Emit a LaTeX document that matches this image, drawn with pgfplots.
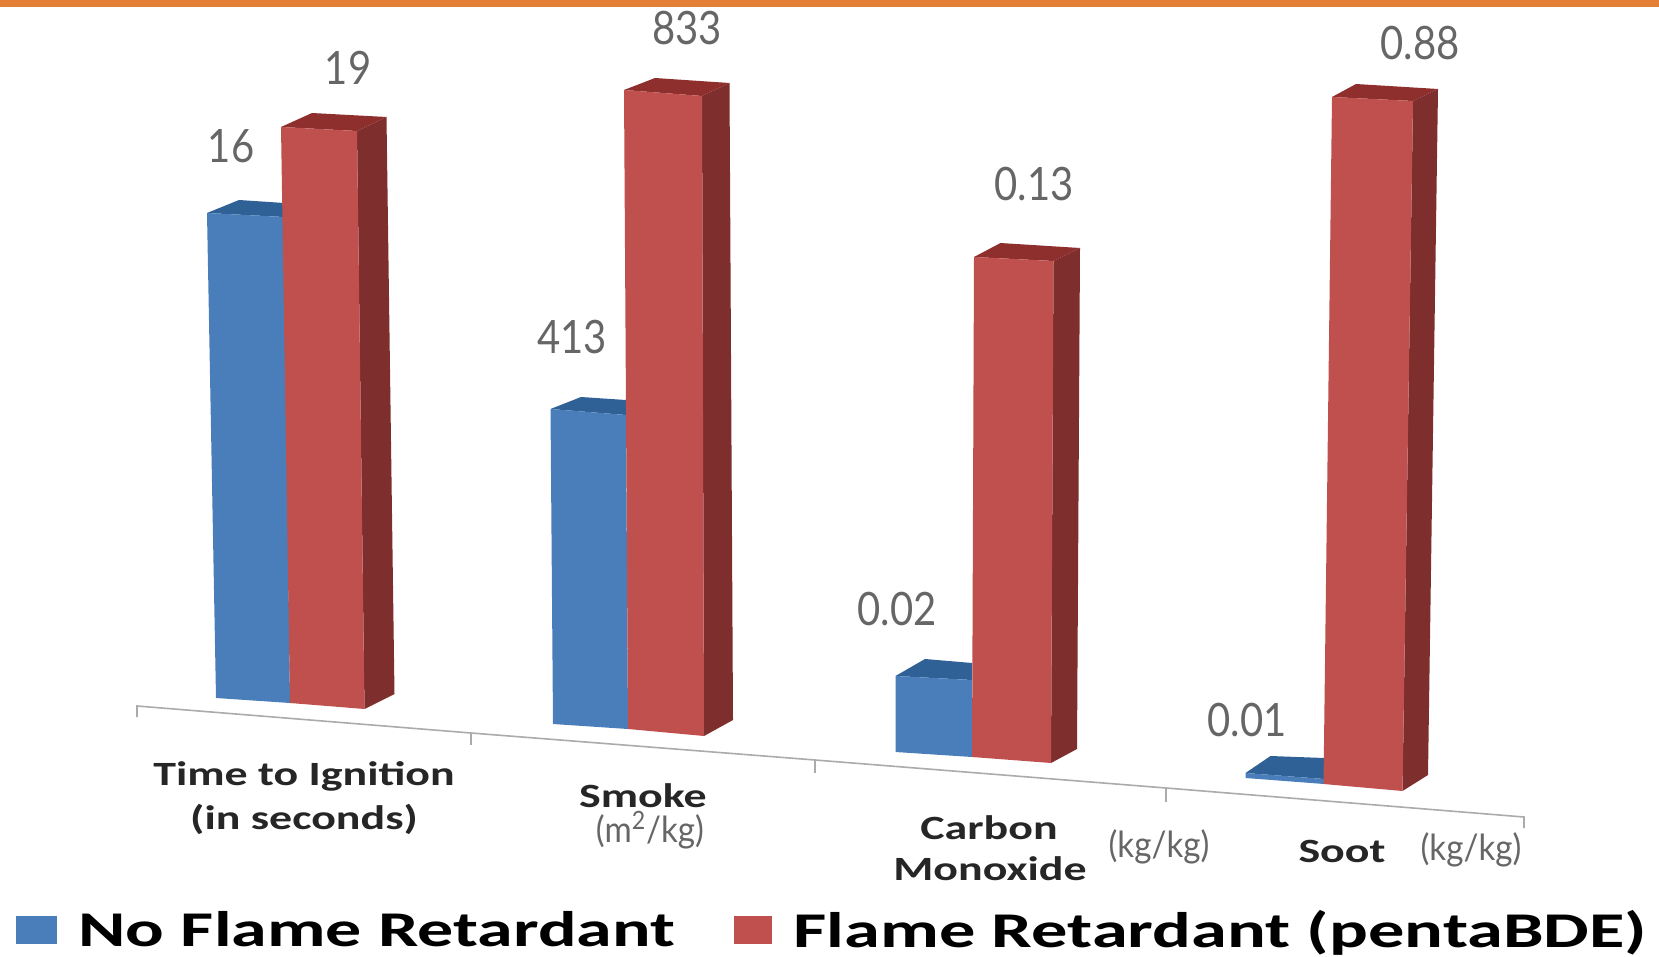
\documentclass[border=0pt]{standalone}
\usepackage{pgfplots}
\usepackage{pgfplotstable}
\usepackage{graphicx}
\usepackage{fontspec}
\pgfplotsset{compat=1.18}
\setmainfont{Carlito}
\newfontfamily\gill{Lato}
\definecolor{band}{HTML}{E38035}
\definecolor{bluef}{HTML}{4A7EBB}
\definecolor{bluet}{HTML}{2F6096}
\definecolor{redf}{HTML}{C0504D}
\definecolor{redt}{HTML}{8E2F2E}
\definecolor{reds}{HTML}{7E2E2D}
\definecolor{axisg}{HTML}{ABABAB}
\definecolor{valg}{HTML}{666666}
% data labels, placed at their positions on the picture (x, y in pixels from top left)
\pgfplotstableread{
x y lab
231 146 16
348 68 19
572 337 413
687 28 833
897 609 0.02
1034 184 0.13
1247 720 0.01
1420 43 0.88
}\labels
\newcommand{\vlab}[1]{\scalebox{.87}[1]{\fontsize{23}{23}\selectfont\gill\color{valg}#1}}
\newcommand{\cat}[1]{\scalebox{1.35}[1]{#1}}
\begin{document}
\begin{tikzpicture}
\useasboundingbox (0,0) rectangle (829.5pt,478.5pt);
\begin{axis}[
  at={(0,0)}, anchor=south west,
  scale only axis, width=829.5pt, height=478.5pt,
  xmin=0, xmax=1659, ymin=0, ymax=957, y dir=reverse,
  hide axis, clip=false,
  legend columns=2,
  legend cell align=left,
  legend style={draw=none, fill=none, at={(axis cs:16.5,930)}, anchor=west,
    inner sep=0pt, outer sep=0pt,
    /tikz/every even column/.append style={column sep=29.2pt},
    nodes={inner sep=0pt, outer sep=0pt, anchor=west}},
]
% top band
\addplot[forget plot, fill=band, draw=none] coordinates {(0,0)(1659,0)(1659,7)(0,7)} -- cycle;
% baseline of the slanted axis
\addplot[forget plot, axisg, line width=0.8pt] coordinates {(137,717)(137,706)(471,733)(815,760)(1166,788)(1524,817)(1524,828)};
\addplot[forget plot, axisg, line width=0.8pt] coordinates {(471,733)(471,745)};
\addplot[forget plot, axisg, line width=0.8pt] coordinates {(815,760)(815,773)};
\addplot[forget plot, axisg, line width=0.8pt] coordinates {(1166,788)(1166,802)};
% Group 1: Time to Ignition, 16 / 19
\addplot[forget plot, fill=bluet, draw=none] coordinates {(207,213)(239,200)(284,203)(284,217)} -- cycle;
\addplot[forget plot, fill=bluef, draw=none] coordinates {(207,213)(284,217)(290,703)(216,698)} -- cycle;
\addplot[forget plot, fill=reds, draw=none] coordinates {(357,131)(386.5,117)(394.5,694)(364.5,709)} -- cycle;
\addplot[forget plot, fill=redt, draw=none] coordinates {(281,127)(312,113)(386.5,117)(357,131)} -- cycle;
\addplot[forget plot, fill=redf, draw=none] coordinates {(281,127)(357,131)(364.5,709)(290,703)} -- cycle;
% Group 2: Smoke, 413 / 833
\addplot[forget plot, fill=bluet, draw=none] coordinates {(550.5,409)(581,397)(626,400)(626,415)} -- cycle;
\addplot[forget plot, fill=bluef, draw=none] coordinates {(550.5,409)(626,415)(628,729)(553,724)} -- cycle;
\addplot[forget plot, fill=reds, draw=none] coordinates {(702,96)(729.5,83)(733,720)(704,736)} -- cycle;
\addplot[forget plot, fill=redt, draw=none] coordinates {(624,90)(655,78)(729.5,83)(702,96)} -- cycle;
\addplot[forget plot, fill=redf, draw=none] coordinates {(624,90)(702,96)(704,736)(628,729)} -- cycle;
% Group 3: Carbon Monoxide, 0.02 / 0.13
\addplot[forget plot, fill=bluet, draw=none] coordinates {(895.5,676)(925,659)(972,663)(972,680)} -- cycle;
\addplot[forget plot, fill=bluef, draw=none] coordinates {(895.5,676)(972,680)(972,757)(895.5,752)} -- cycle;
\addplot[forget plot, fill=reds, draw=none] coordinates {(1053.5,261)(1080,248)(1077,749)(1051,763)} -- cycle;
\addplot[forget plot, fill=redt, draw=none] coordinates {(974,257)(1000.5,243)(1080,248)(1053.5,261)} -- cycle;
\addplot[forget plot, fill=redf, draw=none] coordinates {(974,257)(1053.5,261)(1051,763)(972,757)} -- cycle;
% Group 4: Soot, 0.01 / 0.88
\addplot[forget plot, fill=bluet, draw=none] coordinates {(1245.5,773)(1270.5,756)(1324,758)(1324,779)} -- cycle;
\addplot[forget plot, fill=bluef, draw=none] coordinates {(1245.5,773)(1324,779)(1324,784)(1245.5,778)} -- cycle;
\addplot[forget plot, fill=reds, draw=none] coordinates {(1413,101)(1438,89)(1428,775)(1402.5,791)} -- cycle;
\addplot[forget plot, fill=redt, draw=none] coordinates {(1332,97)(1356,84)(1438,89)(1413,101)} -- cycle;
\addplot[forget plot, fill=redf, draw=none] coordinates {(1332,97)(1413,101)(1402.5,791)(1323.5,784)} -- cycle;
% data labels
\addplot[forget plot, only marks, mark=none, point meta=explicit symbolic,
  nodes near coords={\vlab{\pgfplotspointmeta}},
  nodes near coords style={anchor=center, inner sep=0pt}]
  table[x=x, y=y, meta=lab] {\labels};
% legend
\addlegendimage{area legend, fill=bluef, draw=none, legend image code/.code={\fill[bluef] (0pt,-7pt) rectangle (20pt,7pt);}}
\addlegendentry{\hspace{11pt}\scalebox{1.44}[1]{\fontsize{25}{25}\selectfont\bfseries No Flame Retardant}}
\addlegendimage{area legend, fill=redf, draw=none, legend image code/.code={\fill[redf] (0pt,-7pt) rectangle (19pt,7pt);}}
\addlegendentry{\hspace{11pt}\scalebox{1.448}[1]{\fontsize{25}{25}\selectfont\bfseries Flame Retardant (pentaBDE)}}
% category labels
\node[font=\fontsize{17}{17}\selectfont\bfseries, text=black!85] at (axis cs:304,776) {\cat{Time to Ignition}};
\node[font=\fontsize{17}{17}\selectfont\bfseries, text=black!85] at (axis cs:304,819) {\cat{(in seconds)}};
\node[font=\fontsize{17}{17}\selectfont\bfseries, text=black!85] at (axis cs:643,796) {\cat{Smoke}};
\node[font=\fontsize{17}{17}\selectfont\bfseries, text=black!85] at (axis cs:989,828) {\cat{Carbon}};
\node[font=\fontsize{17}{17}\selectfont\bfseries, text=black!85] at (axis cs:990,869) {\cat{Monoxide}};
\node[font=\fontsize{17}{17}\selectfont\bfseries, text=black!85] at (axis cs:1342,851) {\cat{Soot}};
% units
\node[font=\fontsize{18}{18}\selectfont\gill, text=valg] at (axis cs:650,830) {\scalebox{.92}[1]{(m\textsuperscript{2}/kg)}};
\node[font=\fontsize{18}{18}\selectfont\gill, text=valg] at (axis cs:1159,847) {\scalebox{.92}[1]{(kg/kg)}};
\node[font=\fontsize{18}{18}\selectfont\gill, text=valg] at (axis cs:1471,850) {\scalebox{.92}[1]{(kg/kg)}};
\end{axis}
\end{tikzpicture}
\end{document}
